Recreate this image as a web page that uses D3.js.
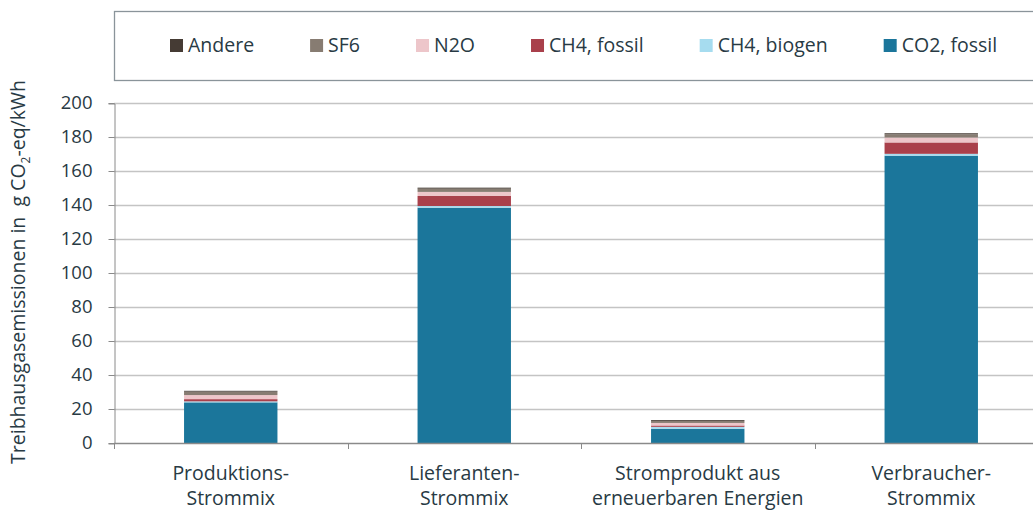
<!DOCTYPE html>
<html>
<head>
<meta charset="utf-8">
<script src="https://cdn.jsdelivr.net/npm/d3@7"></script>
<style>
  html, body { margin: 0; padding: 0; background: #fff; }
  svg { display: block; font-family: "Open Sans", sans-serif; }
  .tick-label, .cat-label, .legend-label, .axis-title { fill: #283a44; }
</style>
</head>
<body>
<div id="chart"></div>
<script>
// Categories and stacked series (g CO2-eq/kWh), bottom to top
const categories = [
  ['Produktions-', 'Strommix'],
  ['Lieferanten-', 'Strommix'],
  ['Stromprodukt aus', 'erneuerbaren Energien'],
  ['Verbraucher-', 'Strommix']
];
const co2Fossil = [23.9, 138.4, 8.4, 169.0];
const ch4Biogen = [0.6, 1.0, 1.1, 1.1];
const ch4Fossil = [1.3, 5.9, 0.8, 6.7];
const n2o = [2.4, 2.4, 1.5, 2.9];
const sf6 = [2.0, 1.9, 1.2, 1.9];
const andere = [0.5, 0.6, 0.5, 0.6];
const yTicks = [0, 20, 40, 60, 80, 100, 120, 140, 160, 180, 200];

const seriesNames = ['CO2, fossil', 'CH4, biogen', 'CH4, fossil', 'N2O', 'SF6', 'Andere'];
const seriesValues = [co2Fossil, ch4Biogen, ch4Fossil, n2o, sf6, andere];
const seriesColors = ['#1b769b', '#a6dcef', '#a9404b', '#edc6ca', '#877c72', '#453b34'];

const W = 1033, H = 510;
const svg = d3.select('#chart').append('svg')
  .attr('width', W)
  .attr('height', H);

// Scales
const catKeys = categories.map(c => c.join(' '));
const x = d3.scaleBand()
  .domain(catKeys)
  .range([114, 1048])
  .paddingInner(0.6)
  .paddingOuter(0.3);
const y = d3.scaleLinear().domain([0, 200]).range([443, 103]);

// Gridlines
svg.append('g')
  .selectAll('line')
  .data(yTicks.filter(d => d > 0))
  .enter().append('line')
  .attr('x1', 114).attr('x2', 1048)
  .attr('y1', d => Math.round(y(d)) + 0.5)
  .attr('y2', d => Math.round(y(d)) + 0.5)
  .attr('stroke', '#c4c4c4')
  .attr('stroke-width', 1.3);

// Y axis
const yAxis = svg.append('g')
  .attr('transform', 'translate(114.5,0.5)')
  .call(d3.axisLeft(y).tickValues(yTicks).tickSize(6).tickPadding(16).tickFormat(d3.format('d')));
yAxis.select('.domain').attr('stroke', '#8a8a8a');
yAxis.selectAll('.tick line').attr('stroke', '#8a8a8a');
yAxis.selectAll('.tick text')
  .attr('class', 'tick-label')
  .attr('fill', null)
  .style('font-size', '18.5px')
  .style('font-family', '"Open Sans", sans-serif');
yAxis.selectAll('.tick').attr('transform', d => `translate(0,${Math.round(y(d))})`);

// Stack
const rows = catKeys.map((k, i) => {
  const r = { key: k };
  seriesNames.forEach((s, j) => { r[s] = seriesValues[j][i]; });
  return r;
});
const stacked = d3.stack().keys(seriesNames)(rows);

svg.append('g')
  .selectAll('g')
  .data(stacked)
  .enter().append('g')
  .attr('fill', (d, i) => seriesColors[i])
  .selectAll('rect')
  .data(d => d)
  .enter().append('rect')
  .attr('x', d => x(d.data.key))
  .attr('width', x.bandwidth())
  .attr('y', d => y(d[1]))
  .attr('height', d => y(d[0]) - y(d[1]));

// X axis baseline and category ticks
svg.append('line')
  .attr('x1', 114).attr('x2', 1048)
  .attr('y1', 443.5).attr('y2', 443.5)
  .attr('stroke', '#8a8a8a')
  .attr('stroke-width', 1.3);

const boundaries = d3.range(catKeys.length + 1).map(i => x.range()[0] + i * x.step());
svg.append('g')
  .selectAll('line')
  .data(boundaries)
  .enter().append('line')
  .attr('x1', d => Math.round(d) + 0.5).attr('x2', d => Math.round(d) + 0.5)
  .attr('y1', 443).attr('y2', 449)
  .attr('stroke', '#8a8a8a');

// Category labels
const catText = svg.append('g')
  .selectAll('text')
  .data(categories)
  .enter().append('text')
  .attr('class', 'cat-label')
  .attr('text-anchor', 'middle')
  .style('font-size', '19.5px');
catText.selectAll('tspan')
  .data((d, i) => d.map(line => ({ line, key: catKeys[i] })))
  .enter().append('tspan')
  .attr('x', d => x(d.key) + x.bandwidth() / 2)
  .attr('y', (d, j) => 480 + j * 25)
  .text(d => d.line);

// Y axis title
const title = svg.append('text')
  .attr('class', 'axis-title')
  .attr('transform', 'translate(25,272) rotate(-90)')
  .attr('text-anchor', 'middle')
  .style('font-size', '19.5px')
  .style('white-space', 'pre');
title.append('tspan').text('Treibhausgasemissionen in\u00a0\u00a0g CO');
title.append('tspan').text('2').style('font-size', '12px').attr('dy', 5);
title.append('tspan').text('-eq/kWh').attr('dy', -5);

// Legend box
svg.append('rect')
  .attr('x', 114.5).attr('y', 11.5)
  .attr('width', 1000).attr('height', 69)
  .attr('fill', '#fff')
  .attr('stroke', '#8a949a')
  .attr('stroke-width', 1.3);

const legendOrder = d3.range(seriesNames.length).reverse();
let lx = 170;
const legend = svg.append('g');
legendOrder.forEach(i => {
  const item = legend.append('g').attr('transform', `translate(${lx},0)`);
  item.append('rect')
    .attr('x', 0).attr('y', 39)
    .attr('width', 13).attr('height', 13)
    .attr('fill', seriesColors[i]);
  const t = item.append('text')
    .attr('class', 'legend-label')
    .attr('x', 18).attr('y', 52)
    .style('font-size', '19.5px')
    .text(seriesNames[i]);
  lx += 18 + t.node().getComputedTextLength() + 56;
});
</script>
</body>
</html>
